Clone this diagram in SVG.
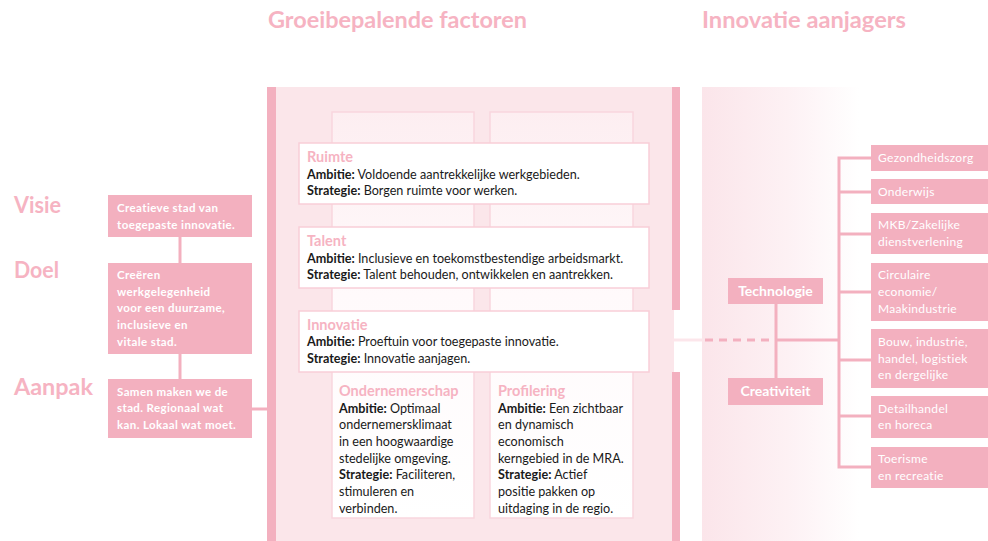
<svg xmlns="http://www.w3.org/2000/svg" width="988" height="541" viewBox="0 0 988 541">
<defs>
<linearGradient id="fadeR" x1="0" y1="0" x2="1" y2="0">
<stop offset="0" stop-color="#fbe5ea"/>
<stop offset="0.3" stop-color="#fdf1f4"/>
<stop offset="0.55" stop-color="#ffffff"/>
<stop offset="1" stop-color="#ffffff"/>
</linearGradient>
<linearGradient id="col" x1="0" y1="0" x2="0" y2="1">
<stop offset="0" stop-color="#fdeef1"/>
<stop offset="0.45" stop-color="#fffafb"/>
<stop offset="1" stop-color="#ffffff"/>
</linearGradient>
<style>
text{font-family:Lato,"Open Sans","Liberation Sans",sans-serif}
.h{font-size:22px;font-weight:700;fill:#f6b3c2}
.lab{font-size:22px;font-weight:700;fill:#f6b3c2}
.lb{fill:#f3b0bf}
.lt{font-size:11.5px;font-weight:700;fill:#ffffff;letter-spacing:0.4px}
.card{fill:#ffffff;stroke:#f9ced8;stroke-width:1.5}
.ct{font-size:14.5px;font-weight:700;fill:#f6b3c2}
.bt{font-size:12.6px;fill:#1a1a1a}
.bt tspan.b{font-weight:700}
.rb{fill:#f3b0bf}
.rt{font-size:12px;fill:#ffffff;letter-spacing:0.3px}
.dt{font-size:14px;font-weight:700;fill:#ffffff}
.ln{stroke:#f3b0bf;stroke-width:3;fill:none}
</style>
</defs>
<rect width="988" height="541" fill="#ffffff"/>

<text class="h" x="268" y="28" textLength="259" lengthAdjust="spacingAndGlyphs">Groeibepalende factoren</text>
<text class="h" x="702" y="28" textLength="204" lengthAdjust="spacingAndGlyphs">Innovatie aanjagers</text>

<!-- main panel -->
<g id="panel">
<rect x="276" y="87" width="398" height="454" fill="#fbe6ea"/>
<rect x="267" y="87" width="9" height="454" fill="#f3b0bf"/>
<rect x="672" y="87" width="8" height="223" fill="#f3b0bf"/>
<rect x="672" y="372" width="8" height="169" fill="#f3b0bf"/>
<rect x="702" y="87" width="286" height="454" fill="url(#fadeR)"/>
<rect x="332" y="112" width="142" height="406" fill="url(#col)" stroke="#f9d6de" stroke-width="1.5"/>
<rect x="490" y="112" width="143" height="406" fill="url(#col)" stroke="#f9d6de" stroke-width="1.5"/>
</g>

<!-- connectors -->
<g id="connectors">
<line class="ln" x1="180" y1="237" x2="180" y2="263"/>
<line class="ln" x1="180" y1="354" x2="180" y2="379"/>
<line class="ln" x1="252" y1="409" x2="268" y2="409"/>
<line x1="672" y1="340" x2="704" y2="340" stroke="#fce6eb" stroke-width="3"/>
<line x1="705" y1="340" x2="772" y2="340" stroke="#f3b0bf" stroke-width="3" stroke-dasharray="8,6"/>
<line class="ln" x1="776" y1="304" x2="776" y2="378"/>
<line class="ln" x1="776" y1="340" x2="839" y2="340"/>
<polyline class="ln" points="871,158 839,158 839,467 871,467"/>
<line class="ln" x1="839" y1="192" x2="871" y2="192"/>
<line class="ln" x1="839" y1="234" x2="871" y2="234"/>
<line class="ln" x1="839" y1="292" x2="871" y2="292"/>
<line class="ln" x1="839" y1="360" x2="871" y2="360"/>
<line class="ln" x1="839" y1="416" x2="871" y2="416"/>
</g>

<!-- left labels -->
<text class="lab" x="14" y="213" textLength="47" lengthAdjust="spacingAndGlyphs">Visie</text>
<text class="lab" x="14" y="278" textLength="45" lengthAdjust="spacingAndGlyphs">Doel</text>
<text class="lab" x="14" y="395" textLength="79" lengthAdjust="spacingAndGlyphs">Aanpak</text>

<g id="visie">
<rect class="lb" x="108" y="195" width="144" height="42"/>
<text class="lt" x="117" y="212">Creatieve stad van</text>
<text class="lt" x="117" y="229">toegepaste innovatie.</text>
</g>
<g id="doel">
<rect class="lb" x="108" y="263" width="144" height="91"/>
<text class="lt" x="117" y="279">Creëren</text>
<text class="lt" x="117" y="296">werkgelegenheid</text>
<text class="lt" x="117" y="312">voor een duurzame,</text>
<text class="lt" x="117" y="329">inclusieve en</text>
<text class="lt" x="117" y="346">vitale stad.</text>
</g>
<g id="aanpak">
<rect class="lb" x="108" y="379" width="144" height="59"/>
<text class="lt" x="117" y="396">Samen maken we de</text>
<text class="lt" x="117" y="412">stad. Regionaal wat</text>
<text class="lt" x="117" y="429">kan. Lokaal wat moet.</text>
</g>

<g id="ruimte">
<rect class="card" x="299" y="143" width="350" height="61"/>
<text class="ct" x="307" y="162">Ruimte</text>
<text class="bt" x="307" y="179"><tspan class="b">Ambitie:</tspan> Voldoende aantrekkelijke werkgebieden.</text>
<text class="bt" x="307" y="195"><tspan class="b">Strategie:</tspan> Borgen ruimte voor werken.</text>
</g>
<g id="talent">
<rect class="card" x="299" y="227" width="350" height="61"/>
<text class="ct" x="307" y="246">Talent</text>
<text class="bt" x="307" y="263"><tspan class="b">Ambitie:</tspan> Inclusieve en toekomstbestendige arbeidsmarkt.</text>
<text class="bt" x="307" y="279"><tspan class="b">Strategie:</tspan> Talent behouden, ontwikkelen en aantrekken.</text>
</g>
<g id="innovatie">
<rect class="card" x="299" y="311" width="350" height="61"/>
<text class="ct" x="307" y="330">Innovatie</text>
<text class="bt" x="307" y="346"><tspan class="b">Ambitie:</tspan> Proeftuin voor toegepaste innovatie.</text>
<text class="bt" x="307" y="363"><tspan class="b">Strategie:</tspan> Innovatie aanjagen.</text>
</g>
<g id="ondernemerschap">
<text class="ct" x="339" y="396">Ondernemerschap</text>
<text class="bt" x="339" y="413"><tspan class="b">Ambitie:</tspan> Optimaal</text>
<text class="bt" x="339" y="429">ondernemersklimaat</text>
<text class="bt" x="339" y="446">in een hoogwaardige</text>
<text class="bt" x="339" y="463">stedelijke omgeving.</text>
<text class="bt" x="339" y="479"><tspan class="b">Strategie:</tspan> Faciliteren,</text>
<text class="bt" x="339" y="496">stimuleren en</text>
<text class="bt" x="339" y="513">verbinden.</text>
</g>
<g id="profilering">
<text class="ct" x="498" y="396">Profilering</text>
<text class="bt" x="498" y="413"><tspan class="b">Ambitie:</tspan> Een zichtbaar</text>
<text class="bt" x="498" y="429">en dynamisch</text>
<text class="bt" x="498" y="446">economisch</text>
<text class="bt" x="498" y="463">kerngebied in de MRA.</text>
<text class="bt" x="498" y="479"><tspan class="b">Strategie:</tspan> Actief</text>
<text class="bt" x="498" y="496">positie pakken op</text>
<text class="bt" x="498" y="513">uitdaging in de regio.</text>
</g>

<g id="technologie">
<rect class="rb" x="728" y="278" width="95" height="26"/>
<text class="dt" x="775.5" y="296" text-anchor="middle">Technologie</text>
</g>
<g id="creativiteit">
<rect class="rb" x="728" y="378" width="95" height="27"/>
<text class="dt" x="775.5" y="396" text-anchor="middle">Creativiteit</text>
</g>

<g id="gezondheidszorg">
<rect class="rb" x="871" y="145" width="117" height="26"/>
<text class="rt" x="878" y="162">Gezondheidszorg</text>
</g>
<g id="onderwijs">
<rect class="rb" x="871" y="179" width="117" height="25"/>
<text class="rt" x="878" y="196">Onderwijs</text>
</g>
<g id="mkb">
<rect class="rb" x="871" y="213" width="117" height="41"/>
<text class="rt" x="878" y="229">MKB/Zakelijke</text>
<text class="rt" x="878" y="246">dienstverlening</text>
</g>
<g id="circulaire">
<rect class="rb" x="871" y="263" width="117" height="58"/>
<text class="rt" x="878" y="279">Circulaire</text>
<text class="rt" x="878" y="296">economie/</text>
<text class="rt" x="878" y="313">Maakindustrie</text>
</g>
<g id="bouw">
<rect class="rb" x="871" y="329" width="117" height="59"/>
<text class="rt" x="878" y="346">Bouw, industrie,</text>
<text class="rt" x="878" y="363">handel, logistiek</text>
<text class="rt" x="878" y="379">en dergelijke</text>
</g>
<g id="detailhandel">
<rect class="rb" x="871" y="396" width="117" height="42"/>
<text class="rt" x="878" y="413">Detailhandel</text>
<text class="rt" x="878" y="429">en horeca</text>
</g>
<g id="toerisme">
<rect class="rb" x="871" y="447" width="117" height="41"/>
<text class="rt" x="878" y="463">Toerisme</text>
<text class="rt" x="878" y="480">en recreatie</text>
</g>
</svg>
